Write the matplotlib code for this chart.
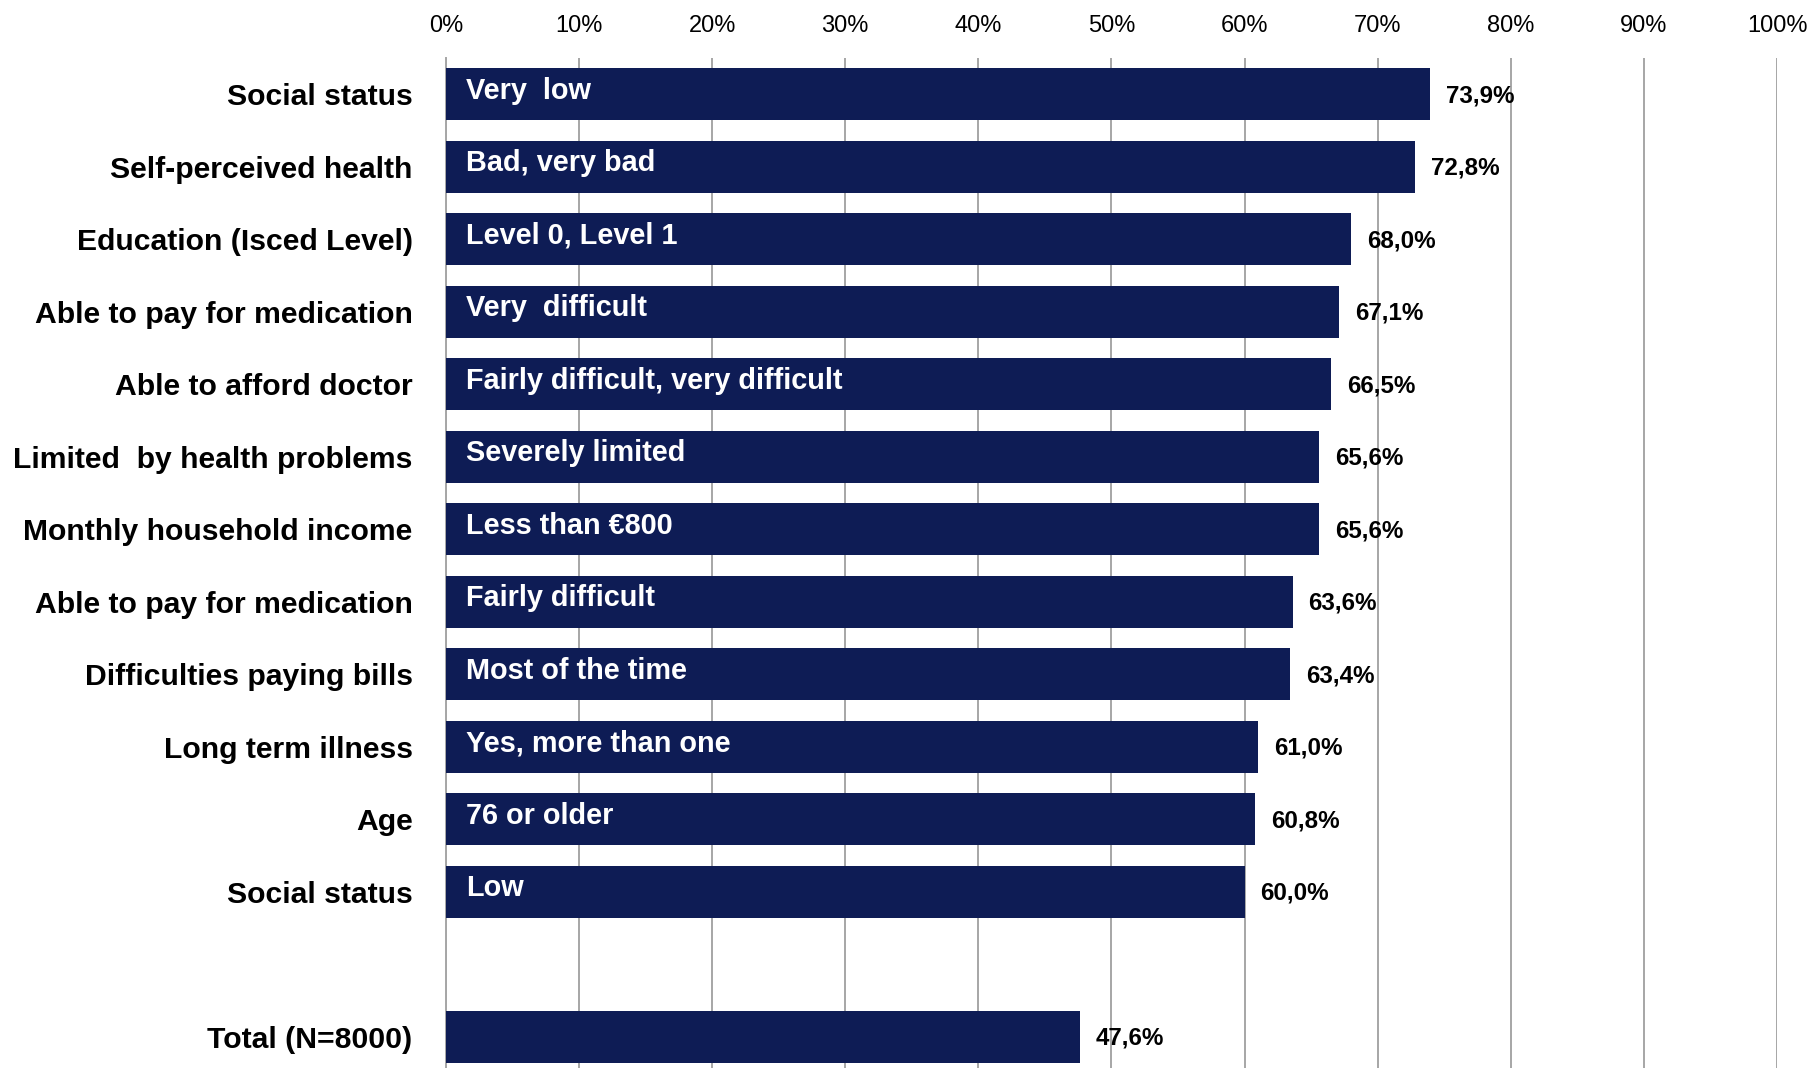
import matplotlib.pyplot as plt

categories = [
    "Social status",
    "Self-perceived health",
    "Education (Isced Level)",
    "Able to pay for medication",
    "Able to afford doctor",
    "Limited  by health problems",
    "Monthly household income",
    "Able to pay for medication",
    "Difficulties paying bills",
    "Long term illness",
    "Age",
    "Social status",
    "Total (N=8000)",
]
answers = [
    "Very  low",
    "Bad, very bad",
    "Level 0, Level 1",
    "Very  difficult",
    "Fairly difficult, very difficult",
    "Severely limited",
    "Less than €800",
    "Fairly difficult",
    "Most of the time",
    "Yes, more than one",
    "76 or older",
    "Low",
    "",
]
values = [73.9, 72.8, 68.0, 67.1, 66.5, 65.6, 65.6, 63.6, 63.4, 61.0, 60.8, 60.0, 47.6]
# empty slot before the total bar
positions = list(range(12)) + [13]
ticks = list(range(0, 101, 10))

font = ["Liberation Sans", "DejaVu Sans"]
bar_color = "#0e1c55"

fig = plt.figure(figsize=(18.12, 10.68), dpi=100)
ax = fig.add_axes([0.2461, 0.0, 0.7346, 0.9457])

ax.barh(positions, values, height=0.72, color=bar_color, zorder=3)

for pos, val, ans in zip(positions, values, answers):
    if ans:
        ax.text(1.5, pos - 0.05, ans, color="white", fontsize=20.8, fontweight="bold",
                family=font, va="center", ha="left", zorder=4)
    ax.text(val + 1.2, pos + 0.02, f"{val:.1f}%".replace(".", ","), fontsize=17.4,
            fontweight="bold", family=font, va="center", ha="left", zorder=4)

ax.set_xlim(0, 100)
ax.set_ylim(13.43, -0.5)
ax.set_xticks(ticks)
ax.set_xticklabels([f"{t}%" for t in ticks], family=font, fontsize=17)
ax.xaxis.tick_top()
ax.tick_params(axis="x", length=0, pad=15)
ax.set_yticks(positions)
ax.set_yticklabels(categories, family=font, fontsize=21.7, fontweight="bold")
ax.tick_params(axis="y", length=0, pad=24)

ax.grid(True, axis="x", color="#a6a6a6", linewidth=1.4, zorder=0)
for side in ["top", "right", "bottom"]:
    ax.spines[side].set_visible(False)
ax.spines["left"].set_color("#a6a6a6")
ax.spines["left"].set_linewidth(1.4)

plt.savefig("out.png", dpi=100)
